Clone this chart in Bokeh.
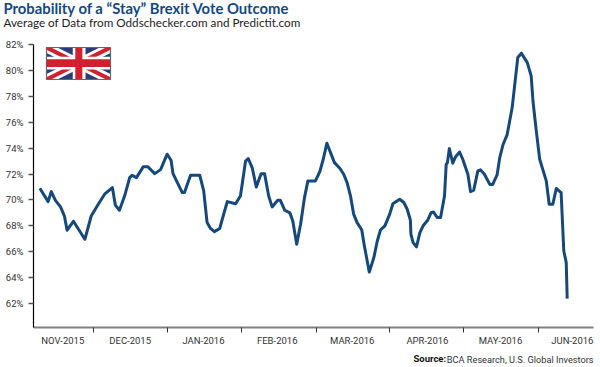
from bokeh.plotting import figure
from bokeh.embed import file_html
from bokeh.resources import INLINE
from bokeh.models import Range1d, FixedTicker, Label, PolyAnnotation

days = [2.6,6.0,7.3,9.0,11.1,12.7,13.8,16.4,21.1,23.7,26.6,29.2,32.4,33.6,35.3,37.4,39.5,40.5,42.3,45.1,46.9,49.8,52.2,54.9,56.5,57.3,61.1,62.0,64.5,68.3,
        69.9,71.3,72.7,74.3,76.5,77.9,79.6,83.0,85.0,87.1,88.2,89.8,91.5,93.5,94.9,96.6,98.0,100.3,101.4,103.2,105.3,106.5,108.1,109.7,111.3,112.7,115.8,117.6,119.0,120.5,123.6,125.8,127.4,128.8,130.2,131.5,132.9,134.8,135.9,137.9,139.8,141.2,142.5,144.3,146.3,147.6,150.4,
        152.1,153.5,154.8,155.0,155.9,157.3,158.7,160.0,161.9,163.3,164.3,165.8,167.2,168.8,169.5,170.0,170.8,172.2,173.3,175.0,176.3,178.4,179.5,180.8,182.5,183.6,185.2,187.4,188.6,190.4,191.5,192.9,194.5,196.6,198.9,200.4,202.8,204.4,205.2,206.5,207.9,210.6,211.8,213.3,214.7,216.7,217.8,218.8,219.2]
stay = [70.9,69.87,70.64,69.97,69.46,68.76,67.66,68.35,66.96,68.76,69.67,70.44,70.95,69.6,69.2,70.3,71.72,71.9,71.72,72.57,72.57,72.03,72.34,73.53,73.06,72.03,70.57,70.57,71.9,71.9,
        70.7,68.25,67.8,67.55,67.8,68.76,69.87,69.7,70.3,73.0,73.2,72.5,71.0,72.03,72.03,70.3,69.46,69.97,69.97,69.2,69.0,68.38,66.58,68.12,70.18,71.47,71.47,72.19,73.14,74.38,72.88,72.45,71.98,71.34,70.3,68.9,68.25,67.7,66.45,64.44,65.55,66.83,67.68,68.0,68.9,69.7,70.05,
        69.8,69.28,68.43,67.35,66.7,66.37,67.48,68.0,68.43,69.02,69.07,68.64,68.64,70.3,72.75,72.88,73.96,72.83,73.32,73.7,73.14,71.98,70.64,70.75,72.24,72.32,71.98,71.2,71.2,71.93,73.27,74.3,75.02,77.13,80.99,81.33,80.6,79.58,77.52,75.33,73.14,71.47,69.67,69.67,70.88,70.57,66.06,65.16,62.38]
y_ticks = [62,64,66,68,70,72,74,76,78,80,82]
month_labels = ["NOV-2015","DEC-2015","JAN-2016","FEB-2016","MAR-2016","APR-2016","MAY-2016","JUN-2016"]
label_days = [12.0,39.7,69.8,100.1,130.9,161.8,191.8,221.3]
month_edges = [24.6,55.0,85.3,116.2,146.2,176.5,207.5]

W, H = 600, 367
FL, FB = 33, 327
p = figure(width=W, height=H, output_backend="svg", toolbar_location=None,
           x_range=Range1d(0,230), y_range=Range1d(60.15,82),
           min_border_left=FL, min_border_right=W-593, min_border_top=44, min_border_bottom=H-FB)
p.outline_line_color=None
p.grid.visible=False
p.background_fill_color="white"

p.line(days, stay, line_color="#15497c", line_width=3, line_join="round", line_cap="butt")

ya=p.yaxis[0]
ya.ticker=FixedTicker(ticks=y_ticks)
ya.major_label_overrides={v:f"{v}%" for v in y_ticks}
ya.axis_line_color="#000000"; ya.axis_line_width=1.2
ya.major_tick_line_color="#555555"; ya.major_tick_line_width=1.5
ya.major_tick_in=0; ya.major_tick_out=5; ya.minor_tick_line_color=None
ya.major_label_text_font="Roboto"; ya.major_label_text_font_size="9.5px"; ya.major_label_text_color="#333333"
ya.major_label_standoff=5

xa=p.xaxis[0]
xa.ticker=FixedTicker(ticks=label_days, minor_ticks=month_edges)
xa.major_label_overrides=dict(zip(label_days,month_labels))
xa.axis_line_color="#808080"; xa.axis_line_width=2
xa.major_tick_line_color=None
xa.major_tick_in=0; xa.major_tick_out=0
xa.minor_tick_in=0; xa.minor_tick_out=5; xa.minor_tick_line_color="#333333"; xa.minor_tick_line_width=1
xa.major_label_text_font="Roboto"; xa.major_label_text_font_size="9.5px"; xa.major_label_text_color="#333333"
xa.major_label_standoff=2

def lab(side,x,y,t,size,color,style="normal",align="left",font="Lato"):
    p.add_layout(Label(x=x-FL,y=y,x_units="screen",y_units="screen",text=t,text_font=font,text_font_size=size,
        text_color=color,text_font_style=style,text_align=align,text_baseline="alphabetic"),side)
lab("above",3,37,"Probability of a \u201cStay\u201d Brexit Vote Outcome","14.8px","#13497f","bold")
lab("above",3,5,"Average of Data from Oddschecker.com and Predictit.com","11.7px","#222222")
lab("above",413,-345.5,"Source:","9.5px","#111111","bold",font="Roboto")
lab("below",593,0.5,"BCA Research, U.S. Global Investors","9.2px","#333333",align="right",font="Roboto")

# flag
FX0,FX1,FY0,FY1=46,110,47,79
fw,fh=FX1-FX0,FY1-FY0
def poly(pts,c,line=None):
    p.add_layout(PolyAnnotation(xs=[FX0-FL+a*fw for a,b in pts],ys=[FB-(FY0+b*fh) for a,b in pts],
        xs_units="screen",ys_units="screen",fill_color=c,fill_alpha=1 if c else 0,line_color=line,line_alpha=1,line_width=1.2))
def rect(a0,a1,b0,b1,c,line=None): poly([(a0,b0),(a1,b0),(a1,b1),(a0,b1)],c,line)
rect(0,1,0,1,"#2a3a7a")
def diag(t,c):
    poly([(0,0),(t,0),(1,1-t),(1,1),(1-t,1),(0,t)],c)
    poly([(1,0),(1,t),(t,1),(0,1),(0,1-t),(1-t,0)],c)
diag(.17,"#ffffff"); diag(.07,"#d2202f")
rect(0,1,.29,.69,"#ffffff"); rect(.41,.61,0,1,"#ffffff")
rect(0,1,.37,.61,"#d2202f"); rect(.45,.56,0,1,"#d2202f")
rect(0,1,0,1,"#ffffff","#666666")
p.center[-1].fill_alpha=0

open("out.html","w").write(file_html(p,INLINE))
